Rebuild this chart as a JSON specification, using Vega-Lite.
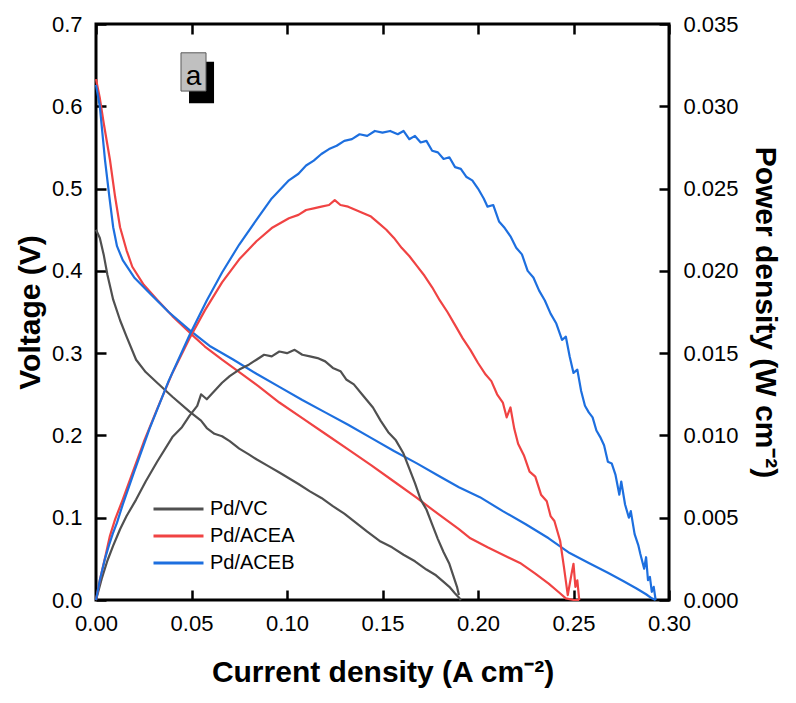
{
  "$schema": "https://vega.github.io/schema/vega-lite/v6.json",
  "width": 573,
  "height": 576,
  "autosize": {"type": "none"},
  "padding": {"left": 96, "top": 24, "right": 127, "bottom": 103},
  "background": "white",
  "config": {
    "font": "Liberation Sans",
    "view": {"stroke": "black", "strokeWidth": 3},
    "axis": {
      "labelFont": "Liberation Sans",
      "labelFontSize": 22,
      "labelColor": "black",
      "titleFont": "Liberation Sans",
      "titleFontSize": 30,
      "titleFontWeight": "bold",
      "titleColor": "black",
      "domain": false,
      "tickColor": "black",
      "tickWidth": 2.5,
      "tickSize": 10,
      "offset": -10,
      "grid": false
    }
  },
  "datasets": {
    "curves": [
      {"sample": "Pd/VC", "kind": "voltage", "j": 0, "y": 0.450},
      {"sample": "Pd/VC", "kind": "voltage", "j": 0.002, "y": 0.440},
      {"sample": "Pd/VC", "kind": "voltage", "j": 0.004, "y": 0.420},
      {"sample": "Pd/VC", "kind": "voltage", "j": 0.006, "y": 0.395},
      {"sample": "Pd/VC", "kind": "voltage", "j": 0.009, "y": 0.365},
      {"sample": "Pd/VC", "kind": "voltage", "j": 0.0126, "y": 0.340},
      {"sample": "Pd/VC", "kind": "voltage", "j": 0.016, "y": 0.320},
      {"sample": "Pd/VC", "kind": "voltage", "j": 0.021, "y": 0.292},
      {"sample": "Pd/VC", "kind": "voltage", "j": 0.026, "y": 0.277},
      {"sample": "Pd/VC", "kind": "voltage", "j": 0.032, "y": 0.264},
      {"sample": "Pd/VC", "kind": "voltage", "j": 0.040, "y": 0.247},
      {"sample": "Pd/VC", "kind": "voltage", "j": 0.049, "y": 0.229},
      {"sample": "Pd/VC", "kind": "voltage", "j": 0.055, "y": 0.218},
      {"sample": "Pd/VC", "kind": "voltage", "j": 0.058, "y": 0.209},
      {"sample": "Pd/VC", "kind": "voltage", "j": 0.062, "y": 0.202},
      {"sample": "Pd/VC", "kind": "voltage", "j": 0.066, "y": 0.199},
      {"sample": "Pd/VC", "kind": "voltage", "j": 0.070, "y": 0.193},
      {"sample": "Pd/VC", "kind": "voltage", "j": 0.075, "y": 0.184},
      {"sample": "Pd/VC", "kind": "voltage", "j": 0.080, "y": 0.177},
      {"sample": "Pd/VC", "kind": "voltage", "j": 0.084, "y": 0.171},
      {"sample": "Pd/VC", "kind": "voltage", "j": 0.090, "y": 0.163},
      {"sample": "Pd/VC", "kind": "voltage", "j": 0.096, "y": 0.155},
      {"sample": "Pd/VC", "kind": "voltage", "j": 0.101, "y": 0.148},
      {"sample": "Pd/VC", "kind": "voltage", "j": 0.106, "y": 0.141},
      {"sample": "Pd/VC", "kind": "voltage", "j": 0.112, "y": 0.132},
      {"sample": "Pd/VC", "kind": "voltage", "j": 0.118, "y": 0.124},
      {"sample": "Pd/VC", "kind": "voltage", "j": 0.124, "y": 0.114},
      {"sample": "Pd/VC", "kind": "voltage", "j": 0.130, "y": 0.105},
      {"sample": "Pd/VC", "kind": "voltage", "j": 0.136, "y": 0.094},
      {"sample": "Pd/VC", "kind": "voltage", "j": 0.142, "y": 0.083},
      {"sample": "Pd/VC", "kind": "voltage", "j": 0.149, "y": 0.071},
      {"sample": "Pd/VC", "kind": "voltage", "j": 0.155, "y": 0.064},
      {"sample": "Pd/VC", "kind": "voltage", "j": 0.161, "y": 0.055},
      {"sample": "Pd/VC", "kind": "voltage", "j": 0.167, "y": 0.047},
      {"sample": "Pd/VC", "kind": "voltage", "j": 0.173, "y": 0.037},
      {"sample": "Pd/VC", "kind": "voltage", "j": 0.178, "y": 0.030},
      {"sample": "Pd/VC", "kind": "voltage", "j": 0.182, "y": 0.022},
      {"sample": "Pd/VC", "kind": "voltage", "j": 0.185, "y": 0.016},
      {"sample": "Pd/VC", "kind": "voltage", "j": 0.188, "y": 0.008},
      {"sample": "Pd/VC", "kind": "voltage", "j": 0.190, "y": 0.003},
      {"sample": "Pd/VC", "kind": "voltage", "j": 0.191, "y": 0.000},

      {"sample": "Pd/VC", "kind": "power", "j": 0, "y": 0},
      {"sample": "Pd/VC", "kind": "power", "j": 0.003, "y": 0.0013},
      {"sample": "Pd/VC", "kind": "power", "j": 0.006, "y": 0.0024},
      {"sample": "Pd/VC", "kind": "power", "j": 0.009, "y": 0.0033},
      {"sample": "Pd/VC", "kind": "power", "j": 0.0126, "y": 0.0043},
      {"sample": "Pd/VC", "kind": "power", "j": 0.016, "y": 0.0051},
      {"sample": "Pd/VC", "kind": "power", "j": 0.021, "y": 0.0061},
      {"sample": "Pd/VC", "kind": "power", "j": 0.026, "y": 0.0072},
      {"sample": "Pd/VC", "kind": "power", "j": 0.032, "y": 0.0084},
      {"sample": "Pd/VC", "kind": "power", "j": 0.040, "y": 0.0099},
      {"sample": "Pd/VC", "kind": "power", "j": 0.045, "y": 0.0105},
      {"sample": "Pd/VC", "kind": "power", "j": 0.049, "y": 0.0112},
      {"sample": "Pd/VC", "kind": "power", "j": 0.053, "y": 0.0118},
      {"sample": "Pd/VC", "kind": "power", "j": 0.055, "y": 0.0125},
      {"sample": "Pd/VC", "kind": "power", "j": 0.058, "y": 0.0122},
      {"sample": "Pd/VC", "kind": "power", "j": 0.062, "y": 0.0127},
      {"sample": "Pd/VC", "kind": "power", "j": 0.066, "y": 0.0132},
      {"sample": "Pd/VC", "kind": "power", "j": 0.070, "y": 0.0136},
      {"sample": "Pd/VC", "kind": "power", "j": 0.075, "y": 0.0140},
      {"sample": "Pd/VC", "kind": "power", "j": 0.080, "y": 0.0143},
      {"sample": "Pd/VC", "kind": "power", "j": 0.084, "y": 0.0146},
      {"sample": "Pd/VC", "kind": "power", "j": 0.088, "y": 0.0149},
      {"sample": "Pd/VC", "kind": "power", "j": 0.092, "y": 0.0148},
      {"sample": "Pd/VC", "kind": "power", "j": 0.096, "y": 0.0151},
      {"sample": "Pd/VC", "kind": "power", "j": 0.100, "y": 0.0150},
      {"sample": "Pd/VC", "kind": "power", "j": 0.104, "y": 0.0152},
      {"sample": "Pd/VC", "kind": "power", "j": 0.108, "y": 0.0149},
      {"sample": "Pd/VC", "kind": "power", "j": 0.112, "y": 0.0148},
      {"sample": "Pd/VC", "kind": "power", "j": 0.116, "y": 0.0147},
      {"sample": "Pd/VC", "kind": "power", "j": 0.120, "y": 0.0145},
      {"sample": "Pd/VC", "kind": "power", "j": 0.124, "y": 0.0141},
      {"sample": "Pd/VC", "kind": "power", "j": 0.128, "y": 0.0139},
      {"sample": "Pd/VC", "kind": "power", "j": 0.131, "y": 0.0134},
      {"sample": "Pd/VC", "kind": "power", "j": 0.135, "y": 0.0131},
      {"sample": "Pd/VC", "kind": "power", "j": 0.140, "y": 0.0124},
      {"sample": "Pd/VC", "kind": "power", "j": 0.145, "y": 0.0117},
      {"sample": "Pd/VC", "kind": "power", "j": 0.149, "y": 0.0109},
      {"sample": "Pd/VC", "kind": "power", "j": 0.153, "y": 0.0102},
      {"sample": "Pd/VC", "kind": "power", "j": 0.157, "y": 0.0097},
      {"sample": "Pd/VC", "kind": "power", "j": 0.161, "y": 0.0089},
      {"sample": "Pd/VC", "kind": "power", "j": 0.164, "y": 0.0080},
      {"sample": "Pd/VC", "kind": "power", "j": 0.167, "y": 0.0071},
      {"sample": "Pd/VC", "kind": "power", "j": 0.170, "y": 0.0061},
      {"sample": "Pd/VC", "kind": "power", "j": 0.173, "y": 0.0055},
      {"sample": "Pd/VC", "kind": "power", "j": 0.176, "y": 0.0046},
      {"sample": "Pd/VC", "kind": "power", "j": 0.179, "y": 0.0037},
      {"sample": "Pd/VC", "kind": "power", "j": 0.182, "y": 0.0029},
      {"sample": "Pd/VC", "kind": "power", "j": 0.185, "y": 0.0022},
      {"sample": "Pd/VC", "kind": "power", "j": 0.187, "y": 0.0015},
      {"sample": "Pd/VC", "kind": "power", "j": 0.189, "y": 0.0008},
      {"sample": "Pd/VC", "kind": "power", "j": 0.190, "y": 0.0003},

      {"sample": "Pd/ACEA", "kind": "voltage", "j": 0, "y": 0.633},
      {"sample": "Pd/ACEA", "kind": "voltage", "j": 0.002, "y": 0.610},
      {"sample": "Pd/ACEA", "kind": "voltage", "j": 0.004, "y": 0.580},
      {"sample": "Pd/ACEA", "kind": "voltage", "j": 0.0073, "y": 0.535},
      {"sample": "Pd/ACEA", "kind": "voltage", "j": 0.010, "y": 0.490},
      {"sample": "Pd/ACEA", "kind": "voltage", "j": 0.0126, "y": 0.453},
      {"sample": "Pd/ACEA", "kind": "voltage", "j": 0.016, "y": 0.425},
      {"sample": "Pd/ACEA", "kind": "voltage", "j": 0.019, "y": 0.405},
      {"sample": "Pd/ACEA", "kind": "voltage", "j": 0.025, "y": 0.383},
      {"sample": "Pd/ACEA", "kind": "voltage", "j": 0.032, "y": 0.365},
      {"sample": "Pd/ACEA", "kind": "voltage", "j": 0.040, "y": 0.345},
      {"sample": "Pd/ACEA", "kind": "voltage", "j": 0.049, "y": 0.325},
      {"sample": "Pd/ACEA", "kind": "voltage", "j": 0.057, "y": 0.308},
      {"sample": "Pd/ACEA", "kind": "voltage", "j": 0.066, "y": 0.292},
      {"sample": "Pd/ACEA", "kind": "voltage", "j": 0.075, "y": 0.277},
      {"sample": "Pd/ACEA", "kind": "voltage", "j": 0.085, "y": 0.260},
      {"sample": "Pd/ACEA", "kind": "voltage", "j": 0.096, "y": 0.240},
      {"sample": "Pd/ACEA", "kind": "voltage", "j": 0.108, "y": 0.221},
      {"sample": "Pd/ACEA", "kind": "voltage", "j": 0.120, "y": 0.202},
      {"sample": "Pd/ACEA", "kind": "voltage", "j": 0.132, "y": 0.183},
      {"sample": "Pd/ACEA", "kind": "voltage", "j": 0.144, "y": 0.164},
      {"sample": "Pd/ACEA", "kind": "voltage", "j": 0.156, "y": 0.144},
      {"sample": "Pd/ACEA", "kind": "voltage", "j": 0.168, "y": 0.124},
      {"sample": "Pd/ACEA", "kind": "voltage", "j": 0.180, "y": 0.103},
      {"sample": "Pd/ACEA", "kind": "voltage", "j": 0.190, "y": 0.086},
      {"sample": "Pd/ACEA", "kind": "voltage", "j": 0.196, "y": 0.075},
      {"sample": "Pd/ACEA", "kind": "voltage", "j": 0.205, "y": 0.064},
      {"sample": "Pd/ACEA", "kind": "voltage", "j": 0.213, "y": 0.055},
      {"sample": "Pd/ACEA", "kind": "voltage", "j": 0.222, "y": 0.045},
      {"sample": "Pd/ACEA", "kind": "voltage", "j": 0.230, "y": 0.032},
      {"sample": "Pd/ACEA", "kind": "voltage", "j": 0.237, "y": 0.020},
      {"sample": "Pd/ACEA", "kind": "voltage", "j": 0.242, "y": 0.010},
      {"sample": "Pd/ACEA", "kind": "voltage", "j": 0.246, "y": 0.002},
      {"sample": "Pd/ACEA", "kind": "voltage", "j": 0.250, "y": 0.000},
      {"sample": "Pd/ACEA", "kind": "voltage", "j": 0.253, "y": 0.000},

      {"sample": "Pd/ACEA", "kind": "power", "j": 0, "y": 0},
      {"sample": "Pd/ACEA", "kind": "power", "j": 0.002, "y": 0.0012},
      {"sample": "Pd/ACEA", "kind": "power", "j": 0.005, "y": 0.0027},
      {"sample": "Pd/ACEA", "kind": "power", "j": 0.0073, "y": 0.0039},
      {"sample": "Pd/ACEA", "kind": "power", "j": 0.010, "y": 0.0049},
      {"sample": "Pd/ACEA", "kind": "power", "j": 0.014, "y": 0.0061},
      {"sample": "Pd/ACEA", "kind": "power", "j": 0.019, "y": 0.0077},
      {"sample": "Pd/ACEA", "kind": "power", "j": 0.025, "y": 0.0096},
      {"sample": "Pd/ACEA", "kind": "power", "j": 0.032, "y": 0.0116},
      {"sample": "Pd/ACEA", "kind": "power", "j": 0.040, "y": 0.0138},
      {"sample": "Pd/ACEA", "kind": "power", "j": 0.049, "y": 0.0159},
      {"sample": "Pd/ACEA", "kind": "power", "j": 0.057, "y": 0.0176},
      {"sample": "Pd/ACEA", "kind": "power", "j": 0.066, "y": 0.0193},
      {"sample": "Pd/ACEA", "kind": "power", "j": 0.075, "y": 0.0207},
      {"sample": "Pd/ACEA", "kind": "power", "j": 0.084, "y": 0.0218},
      {"sample": "Pd/ACEA", "kind": "power", "j": 0.092, "y": 0.0226},
      {"sample": "Pd/ACEA", "kind": "power", "j": 0.101, "y": 0.0232},
      {"sample": "Pd/ACEA", "kind": "power", "j": 0.106, "y": 0.0234},
      {"sample": "Pd/ACEA", "kind": "power", "j": 0.110, "y": 0.0237},
      {"sample": "Pd/ACEA", "kind": "power", "j": 0.114, "y": 0.0238},
      {"sample": "Pd/ACEA", "kind": "power", "j": 0.118, "y": 0.0239},
      {"sample": "Pd/ACEA", "kind": "power", "j": 0.122, "y": 0.0240},
      {"sample": "Pd/ACEA", "kind": "power", "j": 0.125, "y": 0.0243},
      {"sample": "Pd/ACEA", "kind": "power", "j": 0.128, "y": 0.0240},
      {"sample": "Pd/ACEA", "kind": "power", "j": 0.132, "y": 0.0239},
      {"sample": "Pd/ACEA", "kind": "power", "j": 0.136, "y": 0.0237},
      {"sample": "Pd/ACEA", "kind": "power", "j": 0.140, "y": 0.0235},
      {"sample": "Pd/ACEA", "kind": "power", "j": 0.144, "y": 0.0233},
      {"sample": "Pd/ACEA", "kind": "power", "j": 0.148, "y": 0.0229},
      {"sample": "Pd/ACEA", "kind": "power", "j": 0.152, "y": 0.0225},
      {"sample": "Pd/ACEA", "kind": "power", "j": 0.156, "y": 0.0220},
      {"sample": "Pd/ACEA", "kind": "power", "j": 0.160, "y": 0.0214},
      {"sample": "Pd/ACEA", "kind": "power", "j": 0.164, "y": 0.0209},
      {"sample": "Pd/ACEA", "kind": "power", "j": 0.168, "y": 0.0203},
      {"sample": "Pd/ACEA", "kind": "power", "j": 0.172, "y": 0.0197},
      {"sample": "Pd/ACEA", "kind": "power", "j": 0.176, "y": 0.0190},
      {"sample": "Pd/ACEA", "kind": "power", "j": 0.180, "y": 0.0182},
      {"sample": "Pd/ACEA", "kind": "power", "j": 0.184, "y": 0.0175},
      {"sample": "Pd/ACEA", "kind": "power", "j": 0.188, "y": 0.0167},
      {"sample": "Pd/ACEA", "kind": "power", "j": 0.192, "y": 0.0159},
      {"sample": "Pd/ACEA", "kind": "power", "j": 0.196, "y": 0.0152},
      {"sample": "Pd/ACEA", "kind": "power", "j": 0.200, "y": 0.0144},
      {"sample": "Pd/ACEA", "kind": "power", "j": 0.204, "y": 0.0137},
      {"sample": "Pd/ACEA", "kind": "power", "j": 0.207, "y": 0.0133},
      {"sample": "Pd/ACEA", "kind": "power", "j": 0.210, "y": 0.0125},
      {"sample": "Pd/ACEA", "kind": "power", "j": 0.213, "y": 0.0120},
      {"sample": "Pd/ACEA", "kind": "power", "j": 0.215, "y": 0.0111},
      {"sample": "Pd/ACEA", "kind": "power", "j": 0.217, "y": 0.0117},
      {"sample": "Pd/ACEA", "kind": "power", "j": 0.219, "y": 0.0104},
      {"sample": "Pd/ACEA", "kind": "power", "j": 0.221, "y": 0.0095},
      {"sample": "Pd/ACEA", "kind": "power", "j": 0.224, "y": 0.0088},
      {"sample": "Pd/ACEA", "kind": "power", "j": 0.227, "y": 0.0078},
      {"sample": "Pd/ACEA", "kind": "power", "j": 0.230, "y": 0.0075},
      {"sample": "Pd/ACEA", "kind": "power", "j": 0.233, "y": 0.0064},
      {"sample": "Pd/ACEA", "kind": "power", "j": 0.236, "y": 0.0060},
      {"sample": "Pd/ACEA", "kind": "power", "j": 0.238, "y": 0.0051},
      {"sample": "Pd/ACEA", "kind": "power", "j": 0.240, "y": 0.0048},
      {"sample": "Pd/ACEA", "kind": "power", "j": 0.243, "y": 0.0036},
      {"sample": "Pd/ACEA", "kind": "power", "j": 0.245, "y": 0.0020},
      {"sample": "Pd/ACEA", "kind": "power", "j": 0.247, "y": 0.0003},
      {"sample": "Pd/ACEA", "kind": "power", "j": 0.249, "y": 0.0016},
      {"sample": "Pd/ACEA", "kind": "power", "j": 0.250, "y": 0.0022},
      {"sample": "Pd/ACEA", "kind": "power", "j": 0.251, "y": 0.0008},
      {"sample": "Pd/ACEA", "kind": "power", "j": 0.252, "y": 0.0012},
      {"sample": "Pd/ACEA", "kind": "power", "j": 0.253, "y": 0.0000},

      {"sample": "Pd/ACEB", "kind": "voltage", "j": 0, "y": 0.626},
      {"sample": "Pd/ACEB", "kind": "voltage", "j": 0.002, "y": 0.600},
      {"sample": "Pd/ACEB", "kind": "voltage", "j": 0.0047, "y": 0.535},
      {"sample": "Pd/ACEB", "kind": "voltage", "j": 0.007, "y": 0.490},
      {"sample": "Pd/ACEB", "kind": "voltage", "j": 0.009, "y": 0.453},
      {"sample": "Pd/ACEB", "kind": "voltage", "j": 0.011, "y": 0.430},
      {"sample": "Pd/ACEB", "kind": "voltage", "j": 0.014, "y": 0.413},
      {"sample": "Pd/ACEB", "kind": "voltage", "j": 0.020, "y": 0.392},
      {"sample": "Pd/ACEB", "kind": "voltage", "j": 0.028, "y": 0.373},
      {"sample": "Pd/ACEB", "kind": "voltage", "j": 0.038, "y": 0.350},
      {"sample": "Pd/ACEB", "kind": "voltage", "j": 0.049, "y": 0.328},
      {"sample": "Pd/ACEB", "kind": "voltage", "j": 0.060, "y": 0.308},
      {"sample": "Pd/ACEB", "kind": "voltage", "j": 0.072, "y": 0.292},
      {"sample": "Pd/ACEB", "kind": "voltage", "j": 0.084, "y": 0.275},
      {"sample": "Pd/ACEB", "kind": "voltage", "j": 0.096, "y": 0.259},
      {"sample": "Pd/ACEB", "kind": "voltage", "j": 0.108, "y": 0.243},
      {"sample": "Pd/ACEB", "kind": "voltage", "j": 0.120, "y": 0.228},
      {"sample": "Pd/ACEB", "kind": "voltage", "j": 0.132, "y": 0.213},
      {"sample": "Pd/ACEB", "kind": "voltage", "j": 0.144, "y": 0.197},
      {"sample": "Pd/ACEB", "kind": "voltage", "j": 0.156, "y": 0.181},
      {"sample": "Pd/ACEB", "kind": "voltage", "j": 0.168, "y": 0.166},
      {"sample": "Pd/ACEB", "kind": "voltage", "j": 0.180, "y": 0.150},
      {"sample": "Pd/ACEB", "kind": "voltage", "j": 0.190, "y": 0.137},
      {"sample": "Pd/ACEB", "kind": "voltage", "j": 0.201, "y": 0.125},
      {"sample": "Pd/ACEB", "kind": "voltage", "j": 0.213, "y": 0.108},
      {"sample": "Pd/ACEB", "kind": "voltage", "j": 0.225, "y": 0.092},
      {"sample": "Pd/ACEB", "kind": "voltage", "j": 0.237, "y": 0.075},
      {"sample": "Pd/ACEB", "kind": "voltage", "j": 0.248, "y": 0.057},
      {"sample": "Pd/ACEB", "kind": "voltage", "j": 0.258, "y": 0.045},
      {"sample": "Pd/ACEB", "kind": "voltage", "j": 0.268, "y": 0.033},
      {"sample": "Pd/ACEB", "kind": "voltage", "j": 0.276, "y": 0.023},
      {"sample": "Pd/ACEB", "kind": "voltage", "j": 0.283, "y": 0.014},
      {"sample": "Pd/ACEB", "kind": "voltage", "j": 0.288, "y": 0.007},
      {"sample": "Pd/ACEB", "kind": "voltage", "j": 0.291, "y": 0.002},
      {"sample": "Pd/ACEB", "kind": "voltage", "j": 0.293, "y": 0.000},

      {"sample": "Pd/ACEB", "kind": "power", "j": 0, "y": 0},
      {"sample": "Pd/ACEB", "kind": "power", "j": 0.002, "y": 0.0012},
      {"sample": "Pd/ACEB", "kind": "power", "j": 0.0047, "y": 0.0025},
      {"sample": "Pd/ACEB", "kind": "power", "j": 0.007, "y": 0.0034},
      {"sample": "Pd/ACEB", "kind": "power", "j": 0.009, "y": 0.0041},
      {"sample": "Pd/ACEB", "kind": "power", "j": 0.011, "y": 0.0047},
      {"sample": "Pd/ACEB", "kind": "power", "j": 0.014, "y": 0.0058},
      {"sample": "Pd/ACEB", "kind": "power", "j": 0.020, "y": 0.0078},
      {"sample": "Pd/ACEB", "kind": "power", "j": 0.028, "y": 0.0104},
      {"sample": "Pd/ACEB", "kind": "power", "j": 0.038, "y": 0.0133},
      {"sample": "Pd/ACEB", "kind": "power", "j": 0.049, "y": 0.0161},
      {"sample": "Pd/ACEB", "kind": "power", "j": 0.058, "y": 0.0182},
      {"sample": "Pd/ACEB", "kind": "power", "j": 0.066, "y": 0.0199},
      {"sample": "Pd/ACEB", "kind": "power", "j": 0.075, "y": 0.0216},
      {"sample": "Pd/ACEB", "kind": "power", "j": 0.084, "y": 0.0231},
      {"sample": "Pd/ACEB", "kind": "power", "j": 0.092, "y": 0.0244},
      {"sample": "Pd/ACEB", "kind": "power", "j": 0.101, "y": 0.0255},
      {"sample": "Pd/ACEB", "kind": "power", "j": 0.106, "y": 0.0259},
      {"sample": "Pd/ACEB", "kind": "power", "j": 0.110, "y": 0.0264},
      {"sample": "Pd/ACEB", "kind": "power", "j": 0.114, "y": 0.0267},
      {"sample": "Pd/ACEB", "kind": "power", "j": 0.118, "y": 0.0271},
      {"sample": "Pd/ACEB", "kind": "power", "j": 0.122, "y": 0.0274},
      {"sample": "Pd/ACEB", "kind": "power", "j": 0.126, "y": 0.0276},
      {"sample": "Pd/ACEB", "kind": "power", "j": 0.130, "y": 0.0279},
      {"sample": "Pd/ACEB", "kind": "power", "j": 0.134, "y": 0.0280},
      {"sample": "Pd/ACEB", "kind": "power", "j": 0.138, "y": 0.0283},
      {"sample": "Pd/ACEB", "kind": "power", "j": 0.142, "y": 0.0282},
      {"sample": "Pd/ACEB", "kind": "power", "j": 0.146, "y": 0.0285},
      {"sample": "Pd/ACEB", "kind": "power", "j": 0.150, "y": 0.0284},
      {"sample": "Pd/ACEB", "kind": "power", "j": 0.154, "y": 0.0285},
      {"sample": "Pd/ACEB", "kind": "power", "j": 0.158, "y": 0.0283},
      {"sample": "Pd/ACEB", "kind": "power", "j": 0.161, "y": 0.0285},
      {"sample": "Pd/ACEB", "kind": "power", "j": 0.164, "y": 0.0280},
      {"sample": "Pd/ACEB", "kind": "power", "j": 0.167, "y": 0.0282},
      {"sample": "Pd/ACEB", "kind": "power", "j": 0.170, "y": 0.0278},
      {"sample": "Pd/ACEB", "kind": "power", "j": 0.173, "y": 0.0279},
      {"sample": "Pd/ACEB", "kind": "power", "j": 0.176, "y": 0.0273},
      {"sample": "Pd/ACEB", "kind": "power", "j": 0.179, "y": 0.0272},
      {"sample": "Pd/ACEB", "kind": "power", "j": 0.182, "y": 0.0268},
      {"sample": "Pd/ACEB", "kind": "power", "j": 0.185, "y": 0.0269},
      {"sample": "Pd/ACEB", "kind": "power", "j": 0.188, "y": 0.0263},
      {"sample": "Pd/ACEB", "kind": "power", "j": 0.191, "y": 0.0262},
      {"sample": "Pd/ACEB", "kind": "power", "j": 0.194, "y": 0.0257},
      {"sample": "Pd/ACEB", "kind": "power", "j": 0.197, "y": 0.0255},
      {"sample": "Pd/ACEB", "kind": "power", "j": 0.200, "y": 0.0250},
      {"sample": "Pd/ACEB", "kind": "power", "j": 0.203, "y": 0.0244},
      {"sample": "Pd/ACEB", "kind": "power", "j": 0.205, "y": 0.0239},
      {"sample": "Pd/ACEB", "kind": "power", "j": 0.208, "y": 0.0240},
      {"sample": "Pd/ACEB", "kind": "power", "j": 0.211, "y": 0.0230},
      {"sample": "Pd/ACEB", "kind": "power", "j": 0.214, "y": 0.0226},
      {"sample": "Pd/ACEB", "kind": "power", "j": 0.217, "y": 0.0221},
      {"sample": "Pd/ACEB", "kind": "power", "j": 0.220, "y": 0.0214},
      {"sample": "Pd/ACEB", "kind": "power", "j": 0.223, "y": 0.0210},
      {"sample": "Pd/ACEB", "kind": "power", "j": 0.226, "y": 0.0200},
      {"sample": "Pd/ACEB", "kind": "power", "j": 0.229, "y": 0.0196},
      {"sample": "Pd/ACEB", "kind": "power", "j": 0.232, "y": 0.0188},
      {"sample": "Pd/ACEB", "kind": "power", "j": 0.235, "y": 0.0182},
      {"sample": "Pd/ACEB", "kind": "power", "j": 0.238, "y": 0.0174},
      {"sample": "Pd/ACEB", "kind": "power", "j": 0.241, "y": 0.0168},
      {"sample": "Pd/ACEB", "kind": "power", "j": 0.244, "y": 0.0158},
      {"sample": "Pd/ACEB", "kind": "power", "j": 0.246, "y": 0.0160},
      {"sample": "Pd/ACEB", "kind": "power", "j": 0.248, "y": 0.0148},
      {"sample": "Pd/ACEB", "kind": "power", "j": 0.250, "y": 0.0138},
      {"sample": "Pd/ACEB", "kind": "power", "j": 0.252, "y": 0.0140},
      {"sample": "Pd/ACEB", "kind": "power", "j": 0.254, "y": 0.0127},
      {"sample": "Pd/ACEB", "kind": "power", "j": 0.256, "y": 0.0118},
      {"sample": "Pd/ACEB", "kind": "power", "j": 0.258, "y": 0.0114},
      {"sample": "Pd/ACEB", "kind": "power", "j": 0.260, "y": 0.0111},
      {"sample": "Pd/ACEB", "kind": "power", "j": 0.262, "y": 0.0103},
      {"sample": "Pd/ACEB", "kind": "power", "j": 0.264, "y": 0.0099},
      {"sample": "Pd/ACEB", "kind": "power", "j": 0.266, "y": 0.0094},
      {"sample": "Pd/ACEB", "kind": "power", "j": 0.268, "y": 0.0084},
      {"sample": "Pd/ACEB", "kind": "power", "j": 0.270, "y": 0.0083},
      {"sample": "Pd/ACEB", "kind": "power", "j": 0.272, "y": 0.0076},
      {"sample": "Pd/ACEB", "kind": "power", "j": 0.274, "y": 0.0064},
      {"sample": "Pd/ACEB", "kind": "power", "j": 0.275, "y": 0.0072},
      {"sample": "Pd/ACEB", "kind": "power", "j": 0.277, "y": 0.0058},
      {"sample": "Pd/ACEB", "kind": "power", "j": 0.279, "y": 0.0050},
      {"sample": "Pd/ACEB", "kind": "power", "j": 0.280, "y": 0.0054},
      {"sample": "Pd/ACEB", "kind": "power", "j": 0.282, "y": 0.0040},
      {"sample": "Pd/ACEB", "kind": "power", "j": 0.284, "y": 0.0033},
      {"sample": "Pd/ACEB", "kind": "power", "j": 0.285, "y": 0.0028},
      {"sample": "Pd/ACEB", "kind": "power", "j": 0.287, "y": 0.0019},
      {"sample": "Pd/ACEB", "kind": "power", "j": 0.288, "y": 0.0026},
      {"sample": "Pd/ACEB", "kind": "power", "j": 0.289, "y": 0.0012},
      {"sample": "Pd/ACEB", "kind": "power", "j": 0.290, "y": 0.0014},
      {"sample": "Pd/ACEB", "kind": "power", "j": 0.291, "y": 0.0005},
      {"sample": "Pd/ACEB", "kind": "power", "j": 0.292, "y": 0.0008},
      {"sample": "Pd/ACEB", "kind": "power", "j": 0.293, "y": 0.0000}
    ],
    "panel": [{"tag": "a"}]
  },
  "data": {"name": "curves"},
  "layer": [
    {
      "layer": [
        {
          "transform": [{"filter": "datum.kind === 'voltage'"}],
          "mark": {"type": "line", "strokeWidth": 2.2, "strokeJoin": "round"},
          "encoding": {
            "x": {
              "field": "j", "type": "quantitative",
              "scale": {"domain": [0, 0.3], "nice": false},
              "axis": {
                "orient": "bottom",
                "title": "Current density (A cm⁻²)",
                "values": [0, 0.05, 0.1, 0.15, 0.2, 0.25, 0.3],
                "format": ".2f",
                "labelPadding": 13,
                "labelFlush": false,
                "titleX": 286.5,
                "titleY": 82,
                "titleBaseline": "middle"
              }
            },
            "y": {
              "field": "y", "type": "quantitative",
              "scale": {"domain": [0, 0.7], "nice": false},
              "axis": {
                "orient": "left",
                "title": "Voltage (V)",
                "values": [0, 0.1, 0.2, 0.3, 0.4, 0.5, 0.6, 0.7],
                "format": ".1f",
                "labelPadding": 14,
                "labelFlush": false,
                "titleX": -76,
                "titleY": 288,
                "titleAngle": -90,
                "titleBaseline": "middle",
                "titleAlign": "center"
              }
            },
            "color": {
              "field": "sample", "type": "nominal",
              "scale": {
                "domain": ["Pd/VC", "Pd/ACEA", "Pd/ACEB"],
                "range": ["#505050", "#f04343", "#1d6fdf"]
              },
              "legend": {
                "orient": "none",
                "legendX": 68.5,
                "legendY": 471,
                "title": null,
                "padding": 0,
                "symbolType": "M-2,0H2",
                "symbolSize": 625,
                "symbolStrokeWidth": 3,
                "labelFont": "Liberation Sans",
                "labelFontSize": 20,
                "labelColor": "black",
                "labelOffset": 17.5,
                "rowPadding": 3
              }
            }
          }
        },
        {
          "data": {"name": "panel"},
          "mark": {"type": "rect", "color": "black"},
          "encoding": {
            "x": {"datum": 0.0487, "type": "quantitative"},
            "x2": {"datum": 0.0618},
            "y": {"datum": 0.654, "type": "quantitative"},
            "y2": {"datum": 0.6038}
          }
        },
        {
          "data": {"name": "panel"},
          "mark": {"type": "rect", "fill": "#c0c0c0", "stroke": "#5a5a5a", "strokeWidth": 1},
          "encoding": {
            "x": {"datum": 0.0445, "type": "quantitative"},
            "x2": {"datum": 0.0576},
            "y": {"datum": 0.665, "type": "quantitative"},
            "y2": {"datum": 0.6185}
          }
        },
        {
          "data": {"name": "panel"},
          "mark": {"type": "text", "font": "Liberation Sans", "fontSize": 28, "color": "black", "align": "center", "baseline": "middle"},
          "encoding": {
            "x": {"datum": 0.0510, "type": "quantitative"},
            "y": {"datum": 0.636, "type": "quantitative"},
            "text": {"field": "tag"}
          }
        }
      ]
    },
    {
      "transform": [{"filter": "datum.kind === 'power'"}],
      "mark": {"type": "line", "strokeWidth": 2.2, "strokeJoin": "round"},
      "encoding": {
        "x": {
          "field": "j", "type": "quantitative",
          "scale": {"domain": [0, 0.3], "nice": false},
          "axis": {
            "orient": "top",
            "title": null,
            "labels": false,
            "values": [0, 0.05, 0.1, 0.15, 0.2, 0.25, 0.3]
          }
        },
        "y": {
          "field": "y", "type": "quantitative",
          "scale": {"domain": [0, 0.035], "nice": false},
          "axis": {
            "orient": "right",
            "title": "Power density (W cm⁻²)",
            "values": [0, 0.005, 0.01, 0.015, 0.02, 0.025, 0.03, 0.035],
            "format": ".3f",
            "labelPadding": 14,
            "labelFlush": false,
            "titleX": 105,
            "titleY": 288,
            "titleAngle": 90,
            "titleBaseline": "middle",
            "titleAlign": "center"
          }
        },
        "color": {"field": "sample", "type": "nominal"}
      }
    }
  ],
  "resolve": {"scale": {"y": "independent"}, "axis": {"x": "independent"}}
}
